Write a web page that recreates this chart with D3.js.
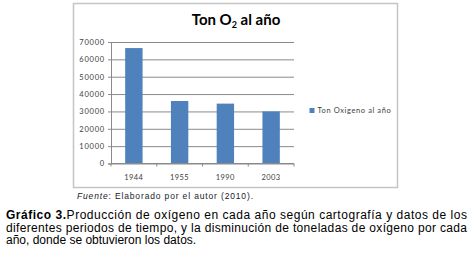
<!DOCTYPE html>
<html>
<head>
<meta charset="utf-8">
<script src="https://cdn.jsdelivr.net/npm/d3@7"></script>
<style>
  html, body { margin: 0; padding: 0; background: #fff; }
  svg { display: block; }
</style>
</head>
<body>
<svg id="chart"></svg>
<script>
const years = ["1944", "1955", "1990", "2003"];
const tonOxigeno = [66500, 36000, 34500, 30000];
const yTicks = [0, 10000, 20000, 30000, 40000, 50000, 60000, 70000];
const seriesName = "Ton Oxigeno al año";
const captionLines = [
  "Producción de oxígeno en cada año según cartografía y datos de los",
  "diferentes periodos de tiempo, y la disminución de toneladas de oxígeno por cada",
  "año, donde se obtuvieron los datos."
];

const width = 471;
const height = 259;
const margin = { top: 42, left: 111, right: 294, bottom: 163.5 };
const chartFont = "Lato, 'Open Sans', sans-serif";
const textFont = "'Liberation Sans', Arial, sans-serif";

const svg = d3.select("#chart")
  .attr("width", width)
  .attr("height", height);

// ── Chart frame ──
svg.append("rect")
  .attr("x", 73.5).attr("y", 3.5)
  .attr("width", 324).attr("height", 184)
  .attr("fill", "#fff")
  .attr("stroke", "#c4c4c4")
  .attr("stroke-width", 1.5);

const x = d3.scaleBand()
  .domain(years)
  .range([margin.left, margin.right])
  .paddingInner(0.62)
  .paddingOuter(0.31);

const y = d3.scaleLinear()
  .domain([0, 70000])
  .range([margin.bottom, margin.top]);

// ── Gridlines ──
svg.append("g")
  .attr("transform", `translate(${margin.left},0)`)
  .call(d3.axisLeft(y).tickValues(yTicks).tickSize(-(margin.right - margin.left)).tickFormat(""))
  .call(g => g.select(".domain").remove())
  .call(g => g.selectAll(".tick line").attr("stroke", "#8a8a8a").attr("stroke-width", 1));

// ── Bars ──
svg.selectAll(".bar")
  .data(years.map((yr, i) => ({ yr, v: tonOxigeno[i] })))
  .join("rect")
  .attr("class", "bar")
  .attr("x", d => x(d.yr))
  .attr("width", x.bandwidth())
  .attr("y", d => y(d.v))
  .attr("height", d => y(0) - y(d.v))
  .attr("fill", "#4f81bd");

// ── Y axis ──
svg.append("g")
  .attr("transform", `translate(${margin.left},0)`)
  .call(d3.axisLeft(y).tickValues(yTicks).tickSize(3).tickPadding(3).tickFormat(d => d))
  .call(g => g.select(".domain").attr("stroke", "#8a8a8a"))
  .call(g => g.selectAll(".tick line").attr("stroke", "#8a8a8a"))
  .call(g => g.selectAll("text")
    .attr("font-family", chartFont)
    .attr("font-size", 7.5)
    .attr("letter-spacing", 0.8)
    .attr("fill", "#404040"));

// ── X axis: ticks on category boundaries ──
const xAxis = svg.append("g")
  .attr("transform", `translate(0,${margin.bottom})`);
xAxis.append("line")
  .attr("x1", margin.left).attr("x2", margin.right)
  .attr("stroke", "#8a8a8a");
const step = x.step();
xAxis.selectAll(".xtick")
  .data(d3.range(years.length + 1))
  .join("line")
  .attr("class", "xtick")
  .attr("x1", i => margin.left + i * step)
  .attr("x2", i => margin.left + i * step)
  .attr("y1", 0).attr("y2", 3)
  .attr("stroke", "#8a8a8a");
xAxis.selectAll(".xlabel")
  .data(years)
  .join("text")
  .attr("class", "xlabel")
  .attr("x", d => x(d) + x.bandwidth() / 2)
  .attr("y", 16)
  .attr("text-anchor", "middle")
  .attr("font-family", chartFont)
  .attr("font-size", 7.5)
  .attr("letter-spacing", 0.4)
  .attr("fill", "#404040")
  .text(d => d);

// ── Title ──
const title = svg.append("text")
  .attr("x", 236).attr("y", 25)
  .attr("text-anchor", "middle")
  .attr("font-family", chartFont)
  .attr("font-size", 15)
  .attr("font-weight", "bold")
  .attr("fill", "#000");
title.append("tspan").text("Ton O");
title.append("tspan").attr("font-size", 9).attr("dy", 3).text("2");
title.append("tspan").attr("dy", -3).text(" al año");

// ── Legend ──
const legend = svg.append("g").attr("transform", "translate(309.5,108)");
legend.append("rect")
  .attr("width", 5).attr("height", 5)
  .attr("fill", "#4f81bd");
legend.append("text")
  .attr("x", 8).attr("y", 5.3)
  .attr("font-family", chartFont)
  .attr("font-size", 7.5)
  .attr("letter-spacing", 0.6)
  .attr("fill", "#404040")
  .text(seriesName);

// ── Source ──
const fuente = svg.append("text")
  .attr("x", 77).attr("y", 198.5)
  .attr("font-family", textFont)
  .attr("font-size", 8.5)
  .attr("textLength", 176)
  .attr("lengthAdjust", "spacing")
  .attr("fill", "#1a1a2a");
fuente.append("tspan").attr("font-style", "italic").text("Fuente");
fuente.append("tspan").text(": Elaborado por el autor (2010).");

// ── Caption ──
const lineY = [219, 231.5, 244];
captionLines.forEach((line, i) => {
  const t = svg.append("text")
    .attr("x", 6).attr("y", lineY[i])
    .attr("font-family", textFont)
    .attr("font-size", 12)
    .attr("fill", "#000");
  if (i === 0) {
    t.append("tspan").attr("font-weight", "bold").text("Gráfico 3.");
  }
  t.append("tspan").text(line);
  if (i < 2) {
    t.attr("textLength", 461).attr("lengthAdjust", "spacing");
  }
});
</script>
</body>
</html>
